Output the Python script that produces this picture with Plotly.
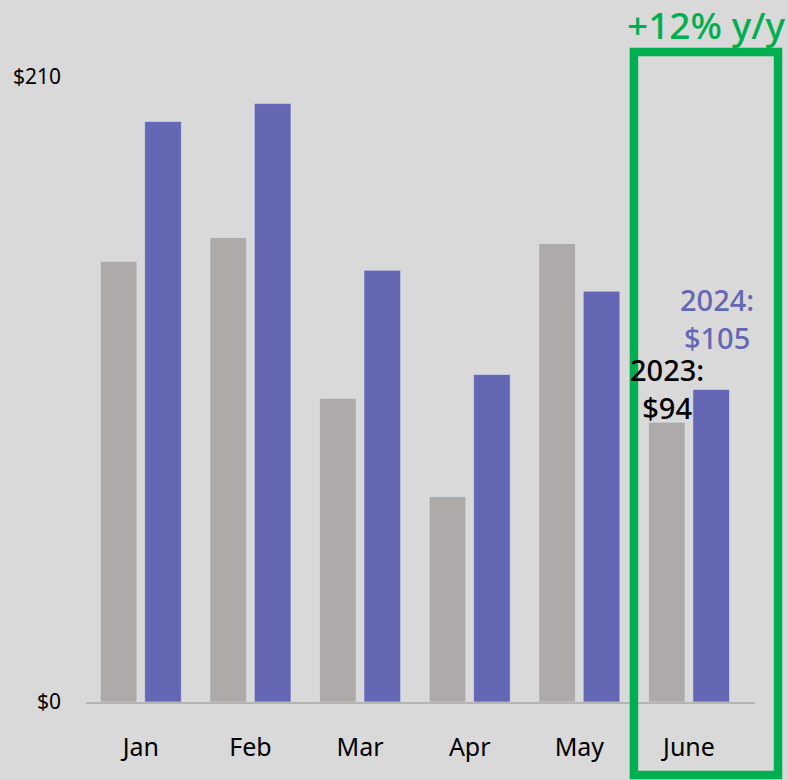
import plotly.graph_objects as go

months = ["Jan", "Feb", "Mar", "Apr", "May", "June"]
sales_2023 = [148, 156, 102, 69, 154, 94]
sales_2024 = [195, 201, 145, 110, 138, 105]
y_ticks = [0, 210]
y_tick_text = ["$0", "$210"]

gray = "#aeaaa9"
purple = "#6467b3"
green = "#00b050"
font = "'Noto Sans', Lato, sans-serif"

fig = go.Figure()
fig.add_trace(go.Bar(x=months, y=sales_2023, name="2023", marker_color=gray))
fig.add_trace(go.Bar(x=months, y=sales_2024, name="2024", marker_color=purple))

# data labels for the highlighted month
fig.add_annotation(x=months[-1], y=sales_2023[-1], xshift=-22, yshift=-6,
                   text=f"2023:<br>${sales_2023[-1]}", showarrow=False,
                   yanchor="bottom", align="center", borderpad=0,
                   font=dict(family=font, size=29, color="black", weight=500))
fig.add_annotation(x=months[-1], y=sales_2024[-1], xshift=28, yshift=31,
                   text=f"2024:<br>${sales_2024[-1]}", showarrow=False,
                   yanchor="bottom", align="center", borderpad=0,
                   font=dict(family=font, size=29, color=purple, weight=500))

# highlight box + headline
fig.add_shape(type="rect", xref="paper", yref="paper",
              x0=0.819, x1=1.0344, y0=-0.1115, y1=0.9924,
              line=dict(color=green, width=8.5))
fig.add_annotation(xref="paper", yref="paper", x=0.806, y=1.034,
                   xanchor="left", yanchor="middle", showarrow=False,
                   text="+12% y/y",
                   font=dict(family=font, size=37, color=green, weight=500))

fig.update_layout(
    width=788, height=780,
    margin=dict(l=86, r=33, t=47, b=78),
    paper_bgcolor="#d9d9d9", plot_bgcolor="#d9d9d9",
    showlegend=False,
    barmode="group", bargap=0.19, bargroupgap=0.175,
    font=dict(family=font, color="black"),
)
fig.update_xaxes(showgrid=False, showline=True, linecolor="#b4b4b4", linewidth=2,
                 ticks="", tickfont=dict(size=25), ticklabelstandoff=22)
fig.update_yaxes(range=[0, 220], showgrid=False, zeroline=False, showline=False,
                 tickvals=y_ticks, ticktext=y_tick_text,
                 tickfont=dict(size=21), ticklabelstandoff=24)

fig.write_html("out.html", config={"displayModeBar": False},
               post_script="document.body.style.margin='0';")
